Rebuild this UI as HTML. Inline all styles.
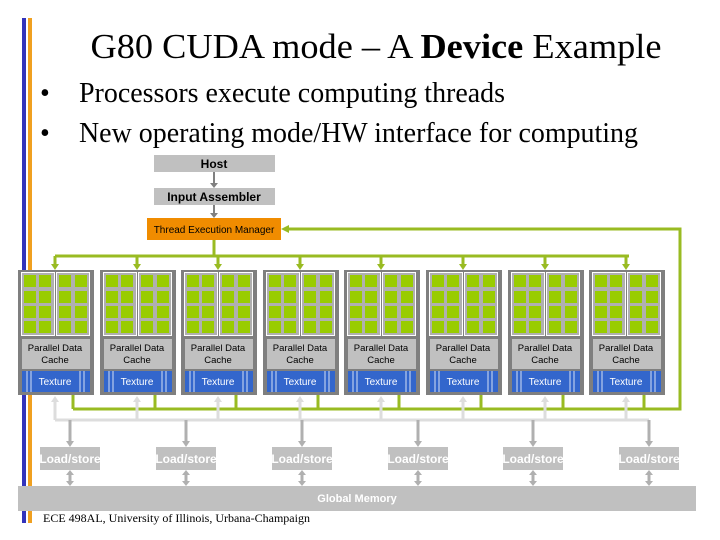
<!DOCTYPE html>
<html><head><meta charset="utf-8"><style>
html,body{margin:0;padding:0;background:#fff;}
svg{display:block}
</style></head><body>
<svg id="s" width="720" height="540" xmlns="http://www.w3.org/2000/svg" font-family="Liberation Sans, sans-serif">
<rect x="22" y="18" width="4" height="505" fill="#3333bb"/>
<rect x="28" y="18" width="4" height="505" fill="#f0a020"/>
<text x="376" y="58" font-family="Liberation Serif, serif" font-size="35" text-anchor="middle" textLength="571" lengthAdjust="spacingAndGlyphs">G80 CUDA mode – A <tspan font-weight="bold">Device</tspan> Example</text>
<text x="40" y="102" font-family="Liberation Serif, serif" font-size="28">•</text>
<text x="79" y="102" font-family="Liberation Serif, serif" font-size="28" textLength="426" lengthAdjust="spacingAndGlyphs">Processors execute computing threads</text>
<text x="40" y="142" font-family="Liberation Serif, serif" font-size="28">•</text>
<text x="79" y="142" font-family="Liberation Serif, serif" font-size="28" textLength="559" lengthAdjust="spacingAndGlyphs">New operating mode/HW interface for computing</text>
<rect x="154" y="155" width="121" height="17" fill="#c0c0c0"/>
<text x="214" y="168" font-size="12" font-weight="bold" text-anchor="middle">Host</text>
<rect x="154" y="188" width="121" height="17" fill="#c0c0c0"/>
<text x="214" y="201" font-size="12" font-weight="bold" text-anchor="middle">Input Assembler</text>
<line x1="214" y1="172" x2="214" y2="185" stroke="#808080" stroke-width="2"/>
<polygon points="210,183 218,183 214,188" fill="#808080"/>
<line x1="214" y1="205" x2="214" y2="214" stroke="#808080" stroke-width="2"/>
<polygon points="210,213 218,213 214,218" fill="#808080"/>
<rect x="147" y="218" width="134" height="22" fill="#f08c00"/>
<text x="214" y="233" font-size="10" text-anchor="middle">Thread Execution Manager</text>
<g stroke="#99bb22" stroke-width="3" fill="none">
<polyline points="286,229 680,229 680,409 73,409"/>
<line x1="214" y1="240" x2="214" y2="256"/>
<line x1="55" y1="256" x2="629" y2="256"/>
</g>
<polygon points="281,229 289,225 289,233" fill="#99bb22"/>
<rect x="18" y="486" width="678" height="25" fill="#c0c0c0"/>
<text x="357" y="502" font-size="11" font-weight="bold" fill="#fff" text-anchor="middle">Global Memory</text>
<line x1="55" y1="420" x2="649" y2="420" stroke="#dddddd" stroke-width="3"/>
<g id="g"></g>
<text x="43" y="522" font-family="Liberation Serif, serif" font-size="12">ECE 498AL, University of Illinois, Urbana-Champaign</text>
</svg>
<script>
var g=document.getElementById('g'),h='';
for(var i=0;i<8;i++){
 var x=Math.round(18+i*81.6),c=x+37;
 h+='<line x1="'+c+'" y1="256" x2="'+c+'" y2="266" stroke="#99bb22" stroke-width="3"/><polygon points="'+(c-4)+',264 '+(c+4)+',264 '+c+',270" fill="#99bb22"/>';
 h+='<line x1="'+(x+55)+'" y1="394" x2="'+(x+55)+'" y2="409" stroke="#99bb22" stroke-width="3"/>';
 h+='<line x1="'+c+'" y1="420" x2="'+c+'" y2="400" stroke="#dddddd" stroke-width="3"/><polygon points="'+(c-4)+',402 '+(c+4)+',402 '+c+',396" fill="#dddddd"/>';
 h+='<rect x="'+x+'" y="270" width="76" height="125" fill="#7f7f7f"/>';
 h+='<rect x="'+(x+3)+'" y="272" width="34" height="64" fill="#fff"/><rect x="'+(x+38)+'" y="272" width="34" height="64" fill="#fff"/>';
 h+='<rect x="'+(x+4)+'" y="273" width="32" height="62" fill="#b0b0b0"/><rect x="'+(x+39)+'" y="273" width="32" height="62" fill="#b0b0b0"/>';
 var ox=[6,21,41,57],oy=[275,291,306,321];
 for(var a=0;a<4;a++)for(var b=0;b<4;b++)h+='<rect x="'+(x+ox[a])+'" y="'+oy[b]+'" width="12" height="12" fill="#99cc00"/>';
 h+='<rect x="'+(x+4)+'" y="339" width="68" height="30" fill="#c0c0c0"/>';
 h+='<text x="'+c+'" y="351" font-size="9.5" text-anchor="middle">Parallel Data</text><text x="'+c+'" y="363" font-size="9.5" text-anchor="middle">Cache</text>';
 h+='<rect x="'+(x+4)+'" y="371" width="68" height="21" fill="#3366cc"/>';
 [x+9,x+13,x+62,x+66].forEach(function(v){h+='<line x1="'+v+'" y1="371" x2="'+v+'" y2="392" stroke="#fff" stroke-width="0.8"/>';});
 h+='<text x="'+c+'" y="385" font-size="10" fill="#fff" text-anchor="middle">Texture</text>';
}
var L=[70,186,302,418,533,649];
L.forEach(function(c){
 h+='<line x1="'+c+'" y1="420" x2="'+c+'" y2="443" stroke="#b0b0b0" stroke-width="3"/><polygon points="'+(c-4)+',441 '+(c+4)+',441 '+c+',447" fill="#b0b0b0"/>';
 h+='<rect x="'+(c-30)+'" y="447" width="60" height="23" fill="#c0c0c0"/><text x="'+c+'" y="463" font-size="12" font-weight="bold" fill="#fff" text-anchor="middle">Load/store</text>';
 h+='<line x1="'+c+'" y1="474" x2="'+c+'" y2="482" stroke="#b0b0b0" stroke-width="3"/><polygon points="'+(c-4)+',475 '+(c+4)+',475 '+c+',470" fill="#b0b0b0"/><polygon points="'+(c-4)+',481 '+(c+4)+',481 '+c+',486" fill="#b0b0b0"/>';
});
g.innerHTML=h;
</script>
</body></html>
